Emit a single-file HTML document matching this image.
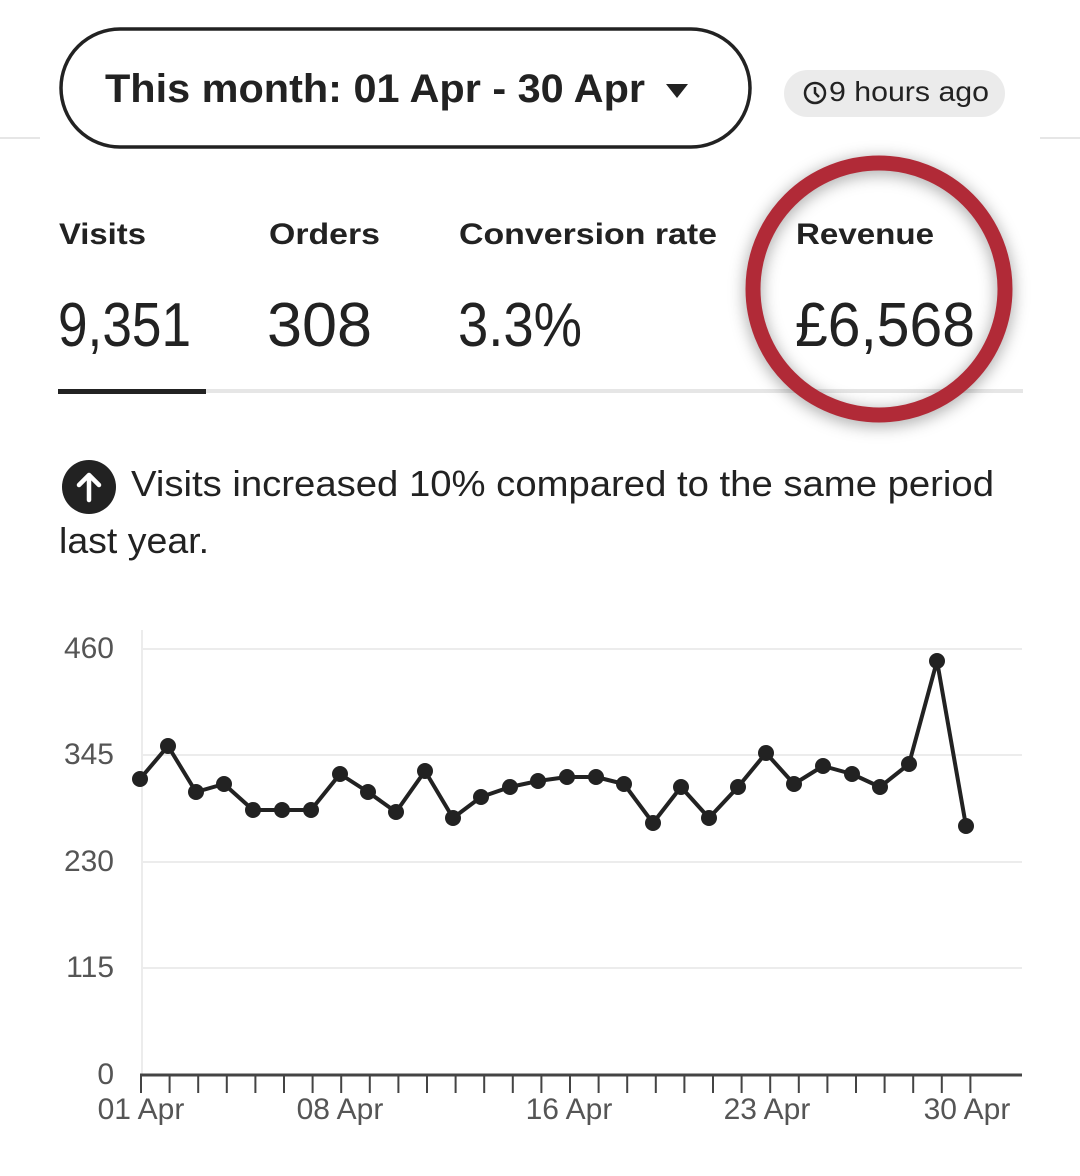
<!DOCTYPE html>
<html><head><meta charset="utf-8"><style>
html,body{margin:0;padding:0;background:#fff;}
svg{display:block;font-family:"Liberation Sans",sans-serif;}
</style></head><body>
<svg width="1080" height="1176" viewBox="0 0 1080 1176" xmlns="http://www.w3.org/2000/svg">
<defs>
<filter id="sh" x="-30%" y="-30%" width="160%" height="160%"><feGaussianBlur stdDeviation="8"/></filter>
</defs>
<line x1="0" y1="138" x2="40" y2="138" stroke="#e6e6e6" stroke-width="2"/>
<line x1="1040" y1="138" x2="1080" y2="138" stroke="#e6e6e6" stroke-width="2"/>
<rect x="61" y="29" width="689" height="118" rx="59" fill="#fff" stroke="#222" stroke-width="3.5"/>
<text x="105" y="102" font-size="40" font-weight="bold" fill="#222" textLength="540" lengthAdjust="spacingAndGlyphs">This month: 01 Apr - 30 Apr</text>
<path d="M666 84 L688 84 L677 98 Z" fill="#222"/>
<rect x="784" y="70" width="221" height="47" rx="23.5" fill="#ebebeb"/>
<circle cx="815" cy="93" r="10" fill="none" stroke="#222" stroke-width="2.5"/>
<path d="M815 87 V93 L819 97" fill="none" stroke="#222" stroke-width="2.5"/>
<text x="829" y="101" font-size="28" fill="#222" textLength="160" lengthAdjust="spacingAndGlyphs">9 hours ago</text>

<g font-size="30" font-weight="bold" fill="#222">
<text x="59" y="244" textLength="87" lengthAdjust="spacingAndGlyphs">Visits</text>
<text x="269" y="244" textLength="111" lengthAdjust="spacingAndGlyphs">Orders</text>
<text x="459" y="244" textLength="258" lengthAdjust="spacingAndGlyphs">Conversion rate</text>
<text x="796" y="244" textLength="138" lengthAdjust="spacingAndGlyphs">Revenue</text>
</g>
<g font-size="62" fill="#222">
<text x="58" y="346" textLength="133" lengthAdjust="spacingAndGlyphs">9,351</text>
<text x="267" y="346" textLength="105" lengthAdjust="spacingAndGlyphs">308</text>
<text x="458" y="346" textLength="124" lengthAdjust="spacingAndGlyphs">3.3%</text>
<text x="795" y="346" textLength="180" lengthAdjust="spacingAndGlyphs">£6,568</text>
</g>
<rect x="58" y="389" width="965" height="4" fill="#e6e6e6"/>
<rect x="58" y="389" width="148" height="5" fill="#222"/>
<circle cx="879" cy="292" r="126" fill="none" stroke="#000" stroke-opacity="0.35" stroke-width="16" filter="url(#sh)"/>
<circle cx="879" cy="289" r="126" fill="none" stroke="#b12a37" stroke-width="15"/>

<circle cx="89" cy="487" r="27" fill="#222"/>
<path d="M89 500 V476 M79 485 L89 475 L99 485" fill="none" stroke="#fff" stroke-width="4.5" stroke-linecap="round" stroke-linejoin="round"/>
<text x="131" y="496" font-size="36" fill="#222" textLength="863" lengthAdjust="spacingAndGlyphs">Visits increased 10% compared to the same period</text>
<text x="59" y="553" font-size="36" fill="#222" textLength="150" lengthAdjust="spacingAndGlyphs">last year.</text>

<g stroke="#ececec" stroke-width="2">
<line x1="142" y1="649" x2="1022" y2="649"/>
<line x1="142" y1="755" x2="1022" y2="755"/>
<line x1="142" y1="862" x2="1022" y2="862"/>
<line x1="142" y1="968" x2="1022" y2="968"/>
<line x1="142" y1="630" x2="142" y2="1074"/>
</g>
<g font-size="30" fill="#555" text-anchor="end">
<text x="114" y="658">460</text>
<text x="114" y="764">345</text>
<text x="114" y="871">230</text>
<text x="114" y="977">115</text>
<text x="114" y="1084">0</text>
</g>
<line x1="140" y1="1075" x2="1022" y2="1075" stroke="#444" stroke-width="3"/>
<g stroke="#444" stroke-width="2" id="ticks"></g>
<g font-size="30" fill="#555" text-anchor="middle">
<text x="141" y="1119">01 Apr</text>
<text x="340" y="1119">08 Apr</text>
<text x="569" y="1119">16 Apr</text>
<text x="767" y="1119">23 Apr</text>
<text x="967" y="1119">30 Apr</text>
</g>
<polyline fill="none" stroke="#222" stroke-width="4" stroke-linejoin="round" points="140,779 168,746 196,792 224,784 253,810 282,810 311,810 340,774 368,792 396,812 425,771 453,818 481,797 510,787 538,781 567,777 596,777 624,784 653,823 681,787 709,818 738,787 766,753 794,784 823,766 852,774 880,787 909,764 937,661 966,826"/>
<g fill="#222">
<circle cx="140" cy="779" r="8"/><circle cx="168" cy="746" r="8"/><circle cx="196" cy="792" r="8"/><circle cx="224" cy="784" r="8"/><circle cx="253" cy="810" r="8"/><circle cx="282" cy="810" r="8"/><circle cx="311" cy="810" r="8"/><circle cx="340" cy="774" r="8"/><circle cx="368" cy="792" r="8"/><circle cx="396" cy="812" r="8"/><circle cx="425" cy="771" r="8"/><circle cx="453" cy="818" r="8"/><circle cx="481" cy="797" r="8"/><circle cx="510" cy="787" r="8"/><circle cx="538" cy="781" r="8"/><circle cx="567" cy="777" r="8"/><circle cx="596" cy="777" r="8"/><circle cx="624" cy="784" r="8"/><circle cx="653" cy="823" r="8"/><circle cx="681" cy="787" r="8"/><circle cx="709" cy="818" r="8"/><circle cx="738" cy="787" r="8"/><circle cx="766" cy="753" r="8"/><circle cx="794" cy="784" r="8"/><circle cx="823" cy="766" r="8"/><circle cx="852" cy="774" r="8"/><circle cx="880" cy="787" r="8"/><circle cx="909" cy="764" r="8"/><circle cx="937" cy="661" r="8"/><circle cx="966" cy="826" r="8"/>
</g>
<path stroke="#444" stroke-width="2" d="M141 1075v18M169.6 1075v18M198.2 1075v18M226.8 1075v18M255.4 1075v18M284 1075v18M312.6 1075v18M341.2 1075v18M369.8 1075v18M398.4 1075v18M427 1075v18M455.6 1075v18M484.2 1075v18M512.8 1075v18M541.4 1075v18M570 1075v18M598.6 1075v18M627.2 1075v18M655.8 1075v18M684.4 1075v18M713 1075v18M741.6 1075v18M770.2 1075v18M798.8 1075v18M827.4 1075v18M856 1075v18M884.6 1075v18M913.2 1075v18M941.8 1075v18M970.4 1075v18"/>
</svg>
</body></html>
